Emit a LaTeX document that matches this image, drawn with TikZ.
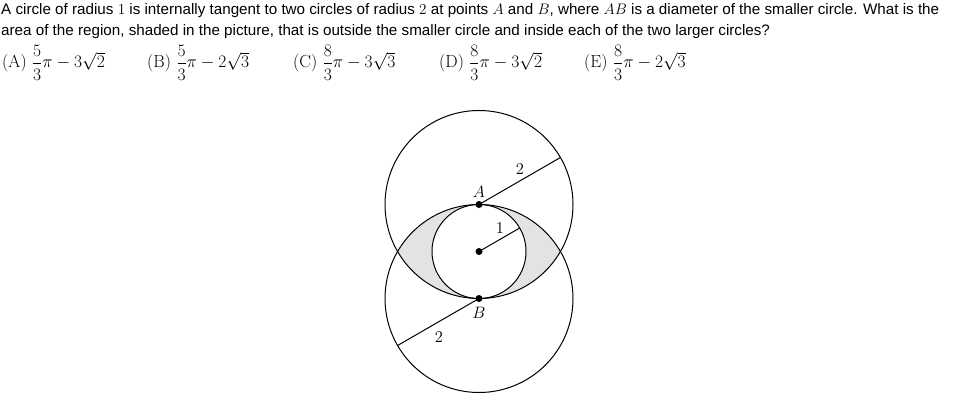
\RequirePackage{fix-cm}
\documentclass[tikz,border=0pt]{standalone}
\usepackage[no-math]{fontspec}
\newfontfamily\qfont{Liberation Sans}
\usepackage{amsmath}
\begin{document}
\begin{tikzpicture}[x=1pt,y=1pt,
  qtext/.style={anchor=base west, inner sep=0pt, font=\qfont\fontsize{15.2}{18}\selectfont},
  ans/.style={anchor=base west, inner sep=0pt, font=\fontsize{17.5}{20}\selectfont},
  circ/.style={line width=1pt},
  lbl/.style={inner sep=0pt, font=\fontsize{16.5}{19}\selectfont},
  dot/.style={fill=black}]
\useasboundingbox (0,0) rectangle (958,405);
% question
\node[qtext] (l1) at (1,390) {A circle of radius $1$ is internally tangent to two circles of radius $2$ at points $A$ and $B$, where $AB$ is a diameter of the smaller circle. What is the};
\node[qtext] (l2) at (1,369) {area of the region, shaded in the picture, that is outside the smaller circle and inside each of the two larger circles?};
\node[ans] (aA) at (2,337) {(A) $\dfrac{5}{3}\pi-3\sqrt{2}$};
\node[ans] (aB) at (147,337) {(B) $\dfrac{5}{3}\pi-2\sqrt{3}$};
\node[ans] (aC) at (293,337) {(C) $\dfrac{8}{3}\pi-3\sqrt{3}$};
\node[ans] (aD) at (439,337) {(D) $\dfrac{8}{3}\pi-3\sqrt{2}$};
\node[ans] (aE) at (584,337) {(E) $\dfrac{8}{3}\pi-2\sqrt{3}$};
% geometry
\coordinate (O) at (479,153.5);
\coordinate (A) at (479,200.5);
\coordinate (B) at (479,106.5);
\begin{scope}
  \clip (A) circle (94);
  \fill[gray!22, even odd rule] (B) circle (94) (O) circle (47);
\end{scope}
\draw[circ] (A) circle (94);
\draw[circ] (B) circle (94);
\draw[circ] (O) circle (47);
\coordinate (P1) at ([shift={(30:94)}]A);
\coordinate (P2) at ([shift={(210:94)}]B);
\coordinate (P3) at ([shift={(30:47)}]O);
\draw[circ] (A) -- (P1);
\draw[circ] (B) -- (P2);
\draw[circ] (O) -- (P3);
\fill[dot] (A) circle (3.5);
\fill[dot] (B) circle (3.5);
\fill[dot] (O) circle (3.5);
\node[lbl] (LA) at (479,213) {$A$};
\node[lbl] (LB) at (479,92) {$B$};
\node[lbl] (L1) at (500,177) {$1$};
\node[lbl] (L2a) at (520,236) {$2$};
\node[lbl] (L2b) at (439,68) {$2$};
\end{tikzpicture}
\end{document}
